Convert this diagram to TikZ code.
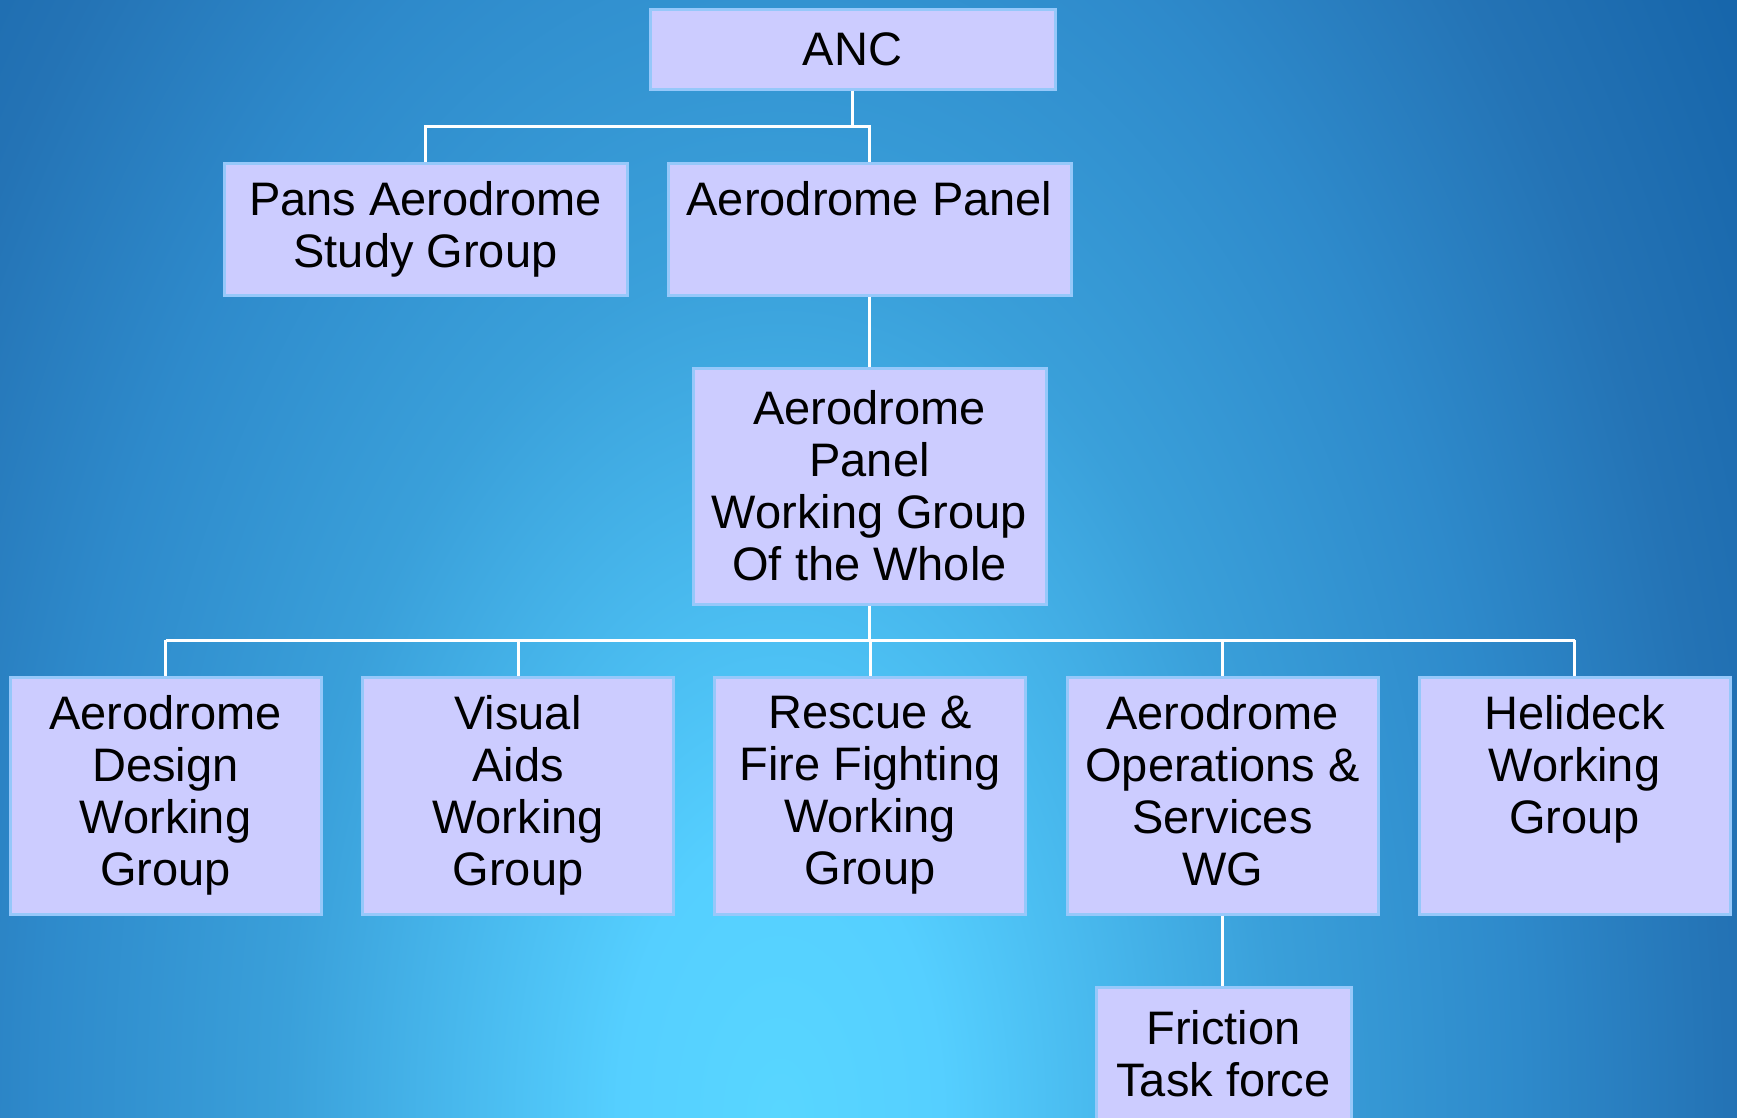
\documentclass[tikz,border=0pt]{standalone}
\usepackage{fontspec}
\setmainfont{Liberation Sans}
\definecolor{boxfill}{RGB}{204,204,255}
\definecolor{boxline}{RGB}{150,200,250}
\pgfdeclareradialshading{bgshade}{\pgfpoint{0bp}{0bp}}{%
  rgb(0bp)=(0.345,0.839,1);
  rgb(140bp)=(0.333,0.812,1);
  rgb(430bp)=(0.227,0.627,0.855);
  rgb(640bp)=(0.180,0.541,0.796);
  rgb(820bp)=(0.141,0.451,0.710);
  rgb(990bp)=(0.090,0.400,0.670);
  rgb(1300bp)=(0.070,0.370,0.640)}
\tikzset{
  orgbox/.style={rectangle, draw=boxline, line width=3pt, fill=boxfill,
    inner sep=0pt, align=center, text=black,
    font=\fontsize{47}{52}\selectfont},
  conn/.style={draw=white, line width=3pt}
}
\begin{document}
\begin{tikzpicture}[x=1pt,y=-1pt]
\useasboundingbox (0,0) rectangle (1737,1117);
\begin{scope}
  \clip (0,0) rectangle (1737,1117);
  \pgftransformshift{\pgfpointxy{780}{1117}}
  \pgftransformxscale{1.15}
  \pgftransformyscale{2}
  \pgflowlevelsynccm
  \pgfuseshading{bgshade}
\end{scope}

\node[orgbox, minimum width=405pt, minimum height=80pt] (anc) at (852.5,49) {ANC};
\node[orgbox, minimum width=403pt, minimum height=132pt] (pans) at (425.5,229) {Pans Aerodrome\\Study Group};
\node[orgbox, minimum width=403pt, minimum height=132pt] (ap) at (869.5,229) {Aerodrome Panel\\\vphantom{Study Group}};
\node[orgbox, minimum width=353pt, minimum height=236pt] (wg) at (869.5,486) {Aerodrome\\Panel\\Working Group\\Of the Whole};

\node[orgbox, minimum width=311pt, minimum height=237pt] (d1) at (165.5,795.5) {Aerodrome\\Design\\Working\\Group};
\node[orgbox, minimum width=311pt, minimum height=237pt] (d2) at (518,795.5) {Visual\\Aids\\Working\\Group};
\node[orgbox, minimum width=311pt, minimum height=237pt] (d3) at (870,795.5) {Rescue \&\\Fire Fighting\\Working\\Group};
\node[orgbox, minimum width=311pt, minimum height=237pt] (d4) at (1222.5,795.5) {Aerodrome\\Operations \&\\Services\\WG\vphantom{p}};
\node[orgbox, minimum width=311pt, minimum height=237pt] (d5) at (1574.5,795.5) {Helideck\\Working\\Group\\\vphantom{Group}};
\node[orgbox, minimum width=255pt, minimum height=133pt] (fric) at (1223.5,1053.5) {Friction\\Task force};

\coordinate (b1) at (0,126);
\coordinate (b2) at (0,640);

\draw[conn] (anc.south) -- (anc.south |- b1);
\draw[conn] (pans.north) -- (pans.north |- b1) -| (ap.north);
\draw[conn] (ap.south) -- (wg.north);
\draw[conn] (wg.south) -- (wg.south |- b2);
\draw[conn] (d1.north |- b2) -- (d5.north |- b2);
\foreach \n in {d1,d2,d3,d4,d5} {
  \draw[conn] (\n.north) -- (\n.north |- b2);
}
\draw[conn] (d4.south) -- (d4.south |- fric.north);
\end{tikzpicture}
\end{document}
